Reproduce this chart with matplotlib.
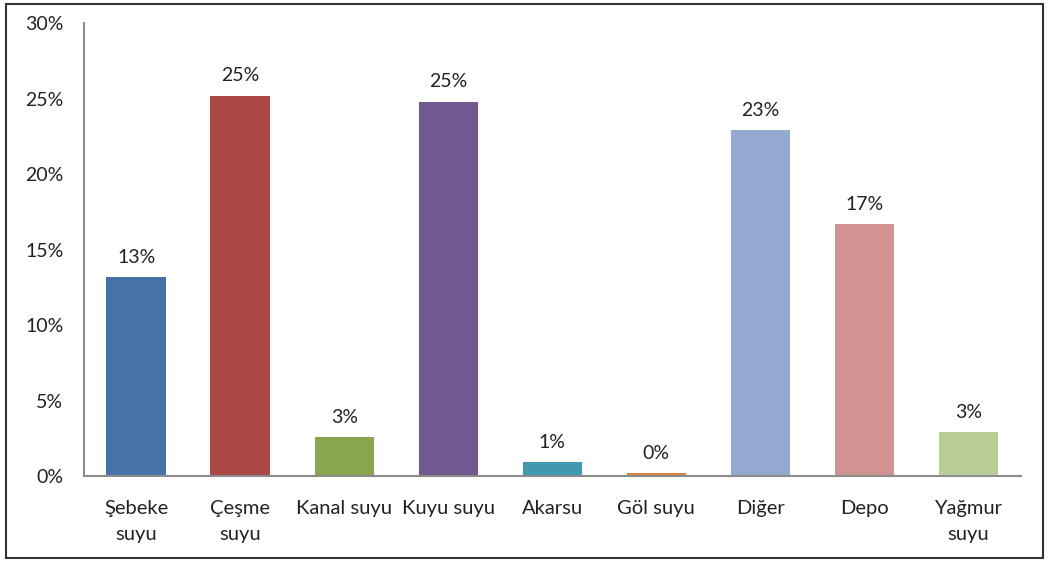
import matplotlib
matplotlib.use("Agg")
import matplotlib.pyplot as plt
from matplotlib.patches import Rectangle
from matplotlib.ticker import FuncFormatter

kategoriler = ["Şebeke\nsuyu", "Çeşme\nsuyu", "Kanal suyu", "Kuyu suyu", "Akarsu",
               "Göl suyu", "Diğer", "Depo", "Yağmur\nsuyu"]
yuzdeler = [13.2, 25.2, 2.6, 24.8, 0.9, 0.2, 22.9, 16.7, 2.9]
renkler = ["#4572A7", "#AA4643", "#89A54E", "#71588F", "#4198AF",
           "#DB843D", "#93A9CF", "#D19392", "#B9CD96"]

plt.rcParams['font.family'] = ['Lato', 'DejaVu Sans']

fig = plt.figure(figsize=(10.51, 5.62), dpi=100)
ax = fig.add_axes([0.080, 0.153, 0.891, 0.806])

x = range(len(kategoriler))
ax.bar(x, yuzdeler, width=0.57, color=renkler)
for i, v in enumerate(yuzdeler):
    ax.annotate("%.0f%%" % v, (i, v), xytext=(0, 8), textcoords="offset points",
                ha="center", va="bottom", fontsize=14, color="#222222")

ax.set_xlim(-0.5, len(kategoriler) - 0.5)
ax.set_ylim(0, 30)
ax.set_yticks([0, 5, 10, 15, 20, 25, 30])
ax.yaxis.set_major_formatter(FuncFormatter(lambda v, p: "%d%%" % v))
ax.set_xticks(list(x))
ax.set_xticklabels(kategoriler, fontsize=14.5, color="#222222", linespacing=1.65)
ax.tick_params(axis="y", labelsize=14, colors="#222222", length=0, pad=15)
ax.tick_params(axis="x", length=0, pad=17)
for s in ["top", "right"]:
    ax.spines[s].set_visible(False)
for s in ["left", "bottom"]:
    ax.spines[s].set_color("#8c8c8c")
    ax.spines[s].set_linewidth(1.5)

fig.patches.append(Rectangle((0.006, 0.008), 0.986, 0.985, transform=fig.transFigure,
                             fill=False, edgecolor="#333333", linewidth=1.5))

fig.savefig("out.png", dpi=100)
